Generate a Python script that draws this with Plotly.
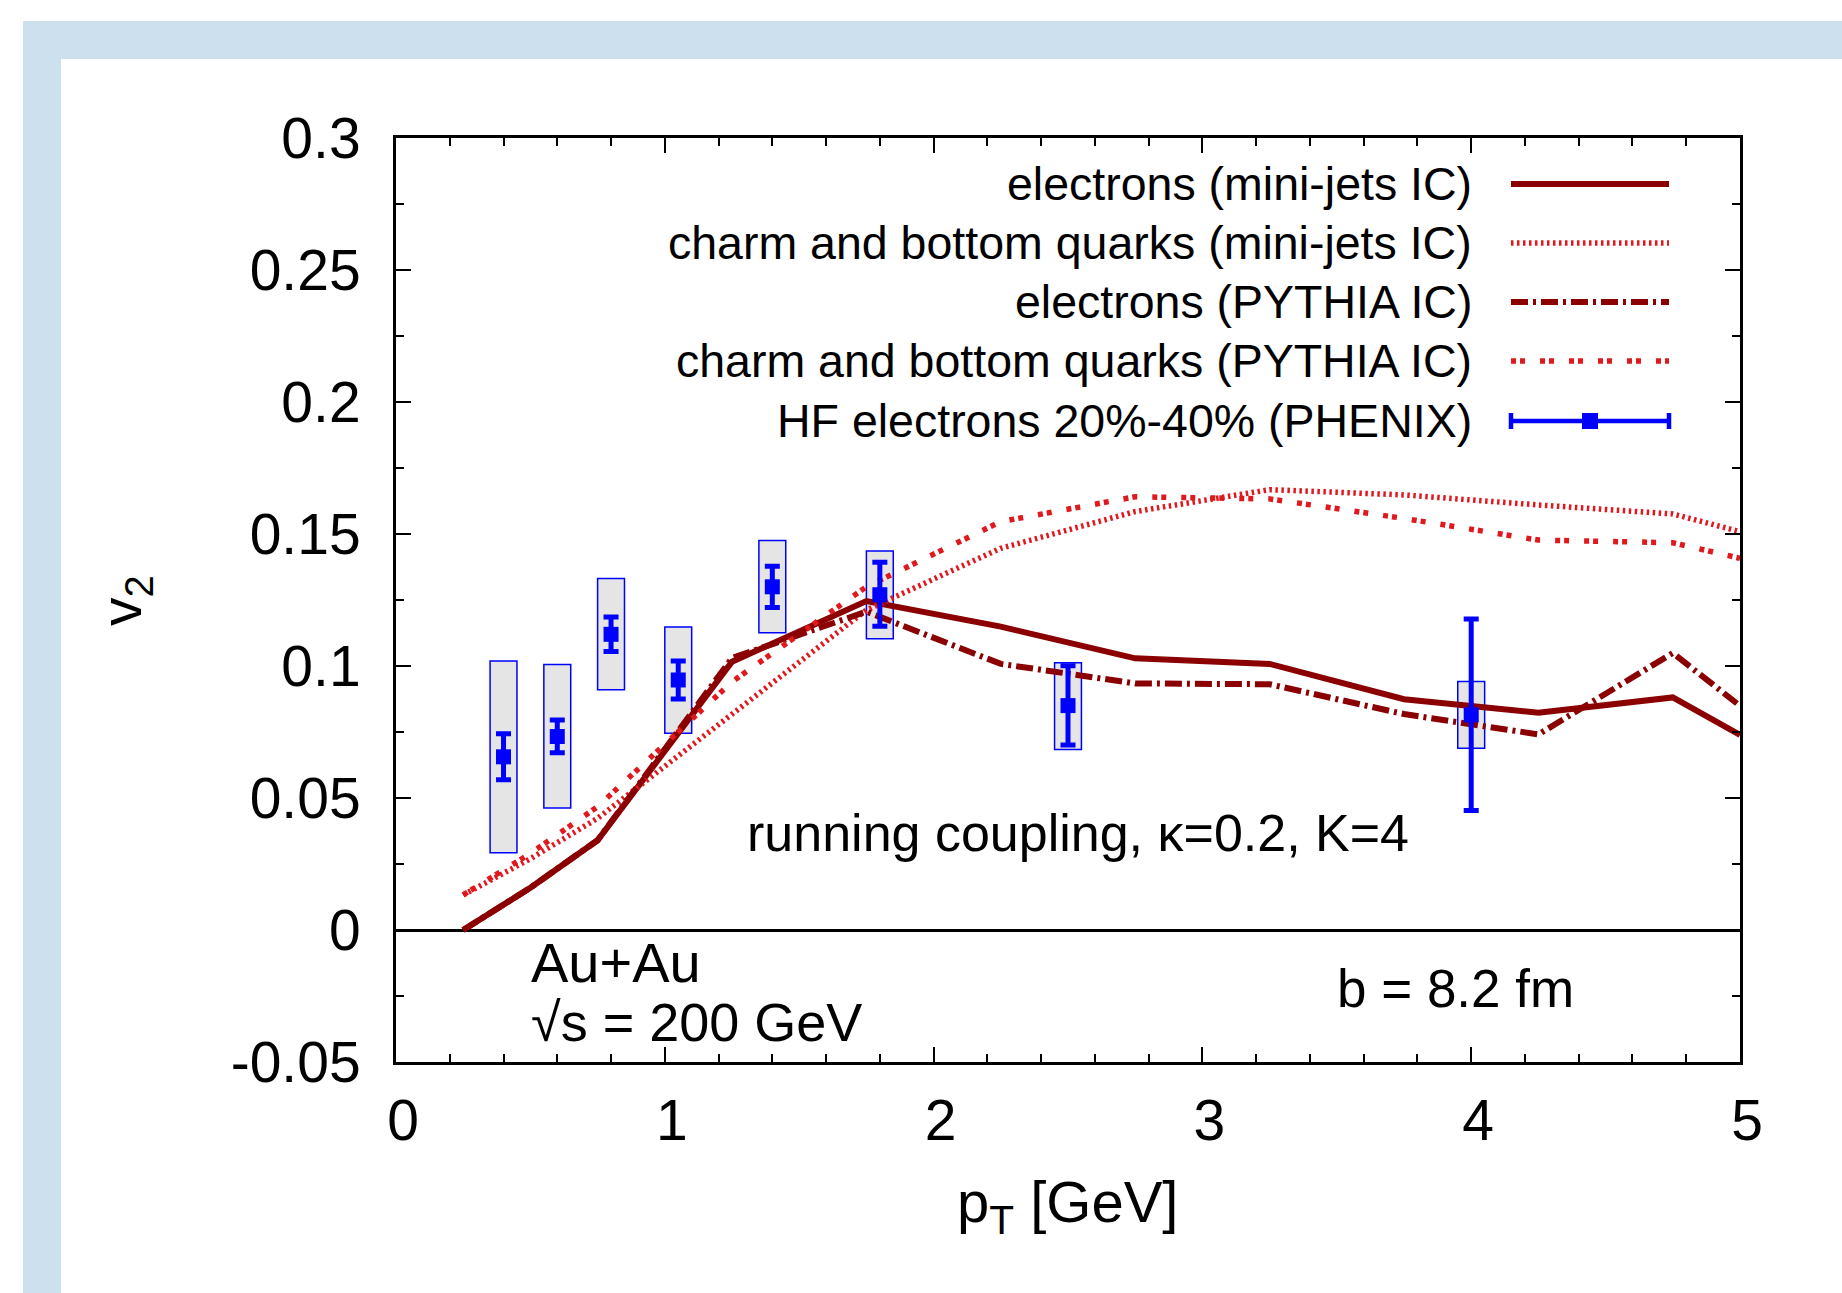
import plotly.graph_objects as go

# ---------------- data ----------------
pt_model = [0.25, 0.5, 0.75, 1.25, 1.75, 2.25, 2.75, 3.25, 3.75, 4.25, 4.75, 5.0]
v2_e_minijets = [0.0, 0.016, 0.034, 0.1016, 0.1246, 0.1149, 0.1029, 0.1008, 0.0874, 0.0823, 0.0881, 0.0739]
v2_q_minijets = [0.0133, 0.027, 0.0423, 0.082, 0.1212, 0.1446, 0.1585, 0.1668, 0.1648, 0.161, 0.1576, 0.1509]
v2_e_pythia = [0.0, 0.016, 0.034, 0.103, 0.1206, 0.1008, 0.0934, 0.0931, 0.0818, 0.0741, 0.1049, 0.0849]
v2_q_pythia = [0.0133, 0.029, 0.0467, 0.094, 0.130, 0.1547, 0.1641, 0.1633, 0.1559, 0.1477, 0.1467, 0.1408]

pt_data = [0.4, 0.6, 0.8, 1.05, 1.4, 1.8, 2.5, 4.0]
v2_data = [0.0656, 0.0733, 0.112, 0.0947, 0.130, 0.127, 0.085, 0.0815]
stat_plus = [0.0087, 0.0062, 0.0066, 0.0072, 0.0078, 0.0123, 0.0151, 0.0363]
stat_minus = [0.0087, 0.0062, 0.0065, 0.0072, 0.0078, 0.0119, 0.0149, 0.0362]
sys_low = [0.0293, 0.0462, 0.091, 0.0745, 0.1126, 0.1103, 0.0684, 0.0688]
sys_high = [0.1019, 0.1006, 0.1331, 0.1148, 0.1475, 0.1436, 0.1012, 0.0941]

legend_labels = [
    "electrons (mini-jets IC)",
    "charm and bottom quarks (mini-jets IC)",
    "electrons (PYTHIA IC)",
    "charm and bottom quarks (PYTHIA IC)",
    "HF electrons 20%-40% (PHENIX)",
]

x_ticks = [0, 1, 2, 3, 4, 5]
y_ticks = [-0.05, 0, 0.05, 0.1, 0.15, 0.2, 0.25, 0.3]
y_tick_text = ["-0.05", "0", "0.05", "0.1", "0.15", "0.2", "0.25", "0.3"]

# ---------------- geometry helpers ----------------
W, H = 1842, 1293
L, R, T, B = 396, 1740, 138, 1062


def px(x):
    return (x - L) / (R - L)


def py(y):
    return (B - y) / (B - T)


DARK_RED = "#8b0000"
RED = "#e0191e"
BLUE = "#0000ff"
FRAME = "#cce0ee"
FONT = "Liberation Sans"

fig = go.Figure()

# model curves
fig.add_trace(go.Scatter(x=pt_model, y=v2_e_minijets, mode="lines",
                         line=dict(color=DARK_RED, width=6), showlegend=False))
fig.add_trace(go.Scatter(x=pt_model, y=v2_q_minijets, mode="lines",
                         line=dict(color=RED, width=5.5, dash="2.5px,3.5px"), showlegend=False))
fig.add_trace(go.Scatter(x=pt_model, y=v2_e_pythia, mode="lines",
                         line=dict(color=DARK_RED, width=6, dash="17px,5px,3px,5px"), showlegend=False))
fig.add_trace(go.Scatter(x=pt_model, y=v2_q_pythia, mode="lines",
                         line=dict(color=RED, width=5.5, dash="5px,4px,5px,15px"), showlegend=False))

# PHENIX data
fig.add_trace(go.Scatter(
    x=pt_data, y=v2_data, mode="markers",
    marker=dict(symbol="square", size=15, color=BLUE),
    error_y=dict(type="data", array=stat_plus, arrayminus=stat_minus,
                 color=BLUE, thickness=5, width=7.5),
    showlegend=False))

shapes = []
# systematic boxes
BOX_HALF = 0.05
for xv, lo, hi in zip(pt_data, sys_low, sys_high):
    shapes.append(dict(type="rect", xref="x", yref="y",
                       x0=xv - BOX_HALF, x1=xv + BOX_HALF, y0=lo, y1=hi,
                       fillcolor="#e5e5e5", line=dict(color=BLUE, width=1.5),
                       layer="below"))

# light-blue page frame
shapes.append(dict(type="rect", xref="paper", yref="paper",
                   x0=px(23), x1=px(61), y0=py(21), y1=py(H + 5),
                   fillcolor=FRAME, line=dict(width=0)))
shapes.append(dict(type="rect", xref="paper", yref="paper",
                   x0=px(23), x1=px(W + 5), y0=py(21), y1=py(59),
                   fillcolor=FRAME, line=dict(width=0)))

# manual legend
row_y = [184, 243, 302, 361, 421]
styles = [
    dict(color=DARK_RED, width=6, dash="solid"),
    dict(color=RED, width=5.5, dash="2.5px,3.5px"),
    dict(color=DARK_RED, width=6, dash="17px,5px,3px,5px"),
    dict(color=RED, width=5.5, dash="5px,4px,5px,15px"),
]
SX0, SX1 = 1511, 1669
for yy, st in zip(row_y[:4], styles):
    shapes.append(dict(type="line", xref="paper", yref="paper",
                       x0=px(SX0), x1=px(SX1), y0=py(yy), y1=py(yy), line=st))
yy = row_y[4]
shapes.append(dict(type="line", xref="paper", yref="paper",
                   x0=px(SX0), x1=px(SX1), y0=py(yy), y1=py(yy),
                   line=dict(color=BLUE, width=4.5)))
for xx in (SX0, SX1):
    shapes.append(dict(type="line", xref="paper", yref="paper",
                       x0=px(xx), x1=px(xx), y0=py(yy - 8), y1=py(yy + 8),
                       line=dict(color=BLUE, width=4.5)))
shapes.append(dict(type="rect", xref="paper", yref="paper",
                   x0=px(1582), x1=px(1598), y0=py(yy - 8), y1=py(yy + 8),
                   fillcolor=BLUE, line=dict(width=0)))

annotations = []
for yy, lab in zip(row_y, legend_labels):
    annotations.append(dict(text=lab, xref="paper", yref="paper", x=px(1474), y=py(yy),
                            xanchor="right", yanchor="middle", showarrow=False,
                            font=dict(family=FONT, size=46.5, color="black")))


def txt(text, x, y, size, xanchor="left", angle=0):
    annotations.append(dict(text=text, xref="paper", yref="paper", x=px(x), y=py(y),
                            xanchor=xanchor, yanchor="middle", showarrow=False,
                            textangle=angle,
                            font=dict(family=FONT, size=size, color="black")))


txt("running coupling, \u03ba=0.2, K=4", 745, 833, 52)
txt("Au+Au", 529, 962, 56)
txt("\u221as = 200 GeV", 529, 1022, 54)
txt("b = 8.2 fm", 1335, 988, 53)
txt("p<sub>T</sub> [GeV]", 1067, 1206, 58, xanchor="center")
txt("v<sub>2</sub>", 125, 601, 57, xanchor="center", angle=-90)

axis_common = dict(
    showline=True, linecolor="black", linewidth=3, mirror="allticks",
    ticks="inside", tickcolor="black", tickwidth=2, ticklen=15,
    showgrid=False,
    tickfont=dict(family=FONT, size=57, color="black"),
)

fig.update_layout(
    width=W, height=H, autosize=False,
    margin=dict(l=L, r=W - R, t=T, b=H - B, pad=0),
    paper_bgcolor="white", plot_bgcolor="white",
    showlegend=False,
    shapes=shapes, annotations=annotations,
    xaxis=dict(range=[0, 5], tickvals=x_ticks, ticktext=[str(v) for v in x_ticks],
               zeroline=False, ticklabelstandoff=7, ticklabelshift=7,
               minor=dict(dtick=0.2, tick0=0, ticks="inside", ticklen=8,
                          tickwidth=2, tickcolor="black", showgrid=False),
               **axis_common),
    yaxis=dict(range=[-0.05, 0.3], tickvals=y_ticks, ticktext=y_tick_text,
               zeroline=True, zerolinecolor="black", zerolinewidth=2.5,
               ticklabelstandoff=21,
               minor=dict(dtick=0.025, tick0=0, ticks="inside", ticklen=8,
                          tickwidth=2, tickcolor="black", showgrid=False),
               **axis_common),
)

fig.write_html("out.html")
